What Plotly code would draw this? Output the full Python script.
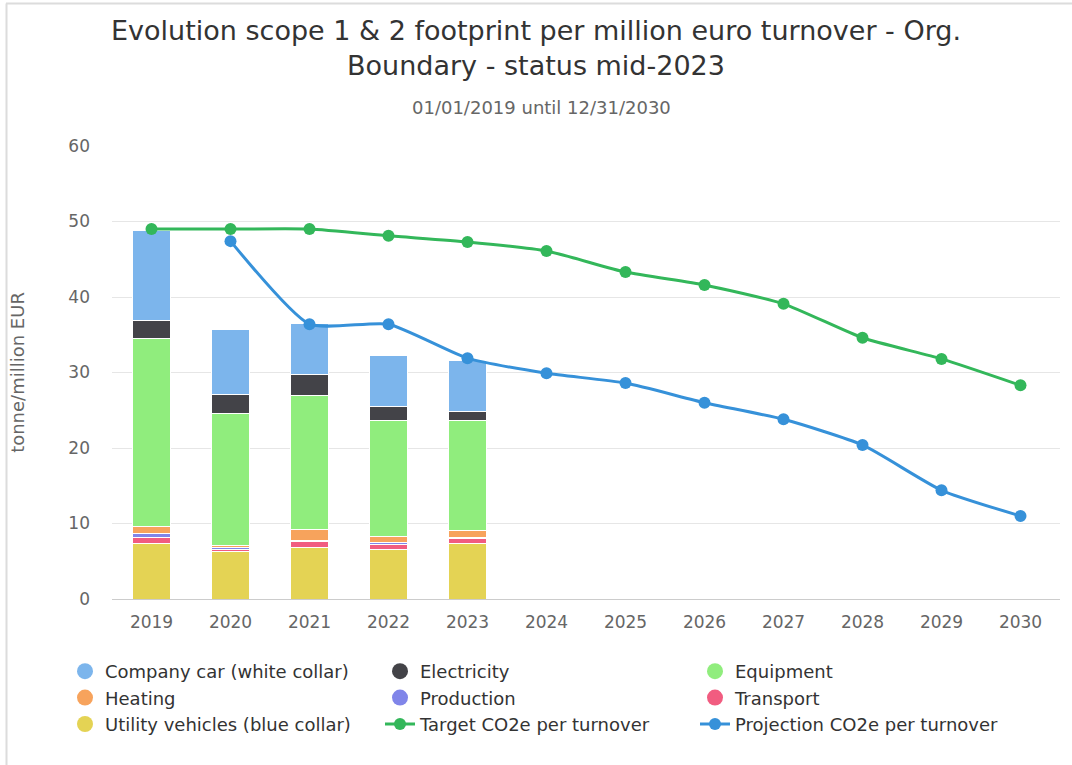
import plotly.graph_objects as go

years = ["2019", "2020", "2021", "2022", "2023", "2024", "2025", "2026", "2027", "2028", "2029", "2030"]
bar_years = ["2019", "2020", "2021", "2022", "2023"]

company_car = [11.9, 8.6, 6.8, 6.8, 6.75]
electricity = [2.4, 2.5, 2.85, 1.8, 1.2]
equipment = [24.9, 17.45, 17.7, 15.45, 14.6]
heating = [0.95, 0.35, 1.4, 0.75, 0.9]
production = [0.5, 0.2, 0.2, 0.25, 0.2]
transport = [0.8, 0.35, 0.8, 0.65, 0.65]
utility = [7.35, 6.25, 6.8, 6.6, 7.35]

target = [49.0, 49.0, 49.0, 48.1, 47.3, 46.1, 43.3, 41.6, 39.1, 34.6, 31.8, 28.3]
projection = [None, 47.4, 36.4, 36.4, 31.9, 29.9, 28.6, 26.0, 23.8, 20.4, 14.4, 11.0]

FONT = "DejaVu Sans"
W, H = 1072, 765
L, R, T, B = 112, 12, 146, 166
PW, PH = W - L - R, H - T - B

bar_series = [
    ("Utility vehicles (blue collar)", utility, "#e4d354", 7),
    ("Transport", transport, "#f15c80", 6),
    ("Production", production, "#8085e9", 5),
    ("Heating", heating, "#f7a35c", 4),
    ("Equipment", equipment, "#90ed7d", 3),
    ("Electricity", electricity, "#434348", 2),
    ("Company car (white collar)", company_car, "#7cb5ec", 1),
]

fig = go.Figure()
for name, vals, color, rank in bar_series:
    fig.add_trace(go.Bar(
        x=bar_years, y=vals, name=name, marker_color=color,
        marker_line_color="white", marker_line_width=1,
        showlegend=False, width=0.47,
    ))
    # legend entry with circular symbol
    fig.add_trace(go.Scatter(
        x=[None], y=[None], mode="markers", name=name,
        marker=dict(color=color, size=16, symbol="circle"),
        legendrank=rank, showlegend=True,
    ))

fig.add_trace(go.Scatter(
    x=years, y=target, name="Target CO2e per turnover", mode="lines+markers",
    line=dict(color="#33b75a", width=3, shape="spline", smoothing=0.55),
    marker=dict(color="#33b75a", size=12), legendrank=8,
))
fig.add_trace(go.Scatter(
    x=years, y=projection, name="Projection CO2e per turnover", mode="lines+markers",
    line=dict(color="#3691d9", width=3, shape="spline", smoothing=0.55),
    marker=dict(color="#3691d9", size=12), legendrank=9,
))

fig.update_layout(
    width=W, height=H,
    barmode="stack",
    plot_bgcolor="white", paper_bgcolor="white",
    font=dict(family=FONT, color="#666666", size=17),
    margin=dict(l=L, r=R, t=T, b=B, autoexpand=False),
    title=dict(
        text="Evolution scope 1 & 2 footprint per million euro turnover - Org.<br>Boundary - status mid-2023",
        x=0.5, xanchor="center", y=1 - 40 / H, yanchor="top",
        font=dict(family=FONT, size=27, color="#333333"),
    ),
    legend=dict(
        orientation="h", x=(65 - L) / PW, xanchor="left", y=-(653 - (H - B)) / PH, yanchor="top",
        entrywidth=270, entrywidthmode="pixels",
        font=dict(family=FONT, size=18, color="#333333"),
        traceorder="normal", itemsizing="trace",
    ),
    showlegend=True,
    annotations=[dict(
        text="01/01/2019 until 12/31/2030", xref="paper", yref="paper",
        x=(541 - L) / PW, y=1.0 + (T - 107) / PH, xanchor="center", yanchor="middle",
        showarrow=False, font=dict(family=FONT, size=18, color="#666666"),
    )],
    shapes=[
        dict(type="line", xref="paper", yref="paper",
             x0=(6 - L) / PW, x1=(W - L) / PW,
             y0=1 + (T - 3.5) / PH, y1=1 + (T - 3.5) / PH,
             line=dict(color="#dcdcdc", width=2)),
        dict(type="line", xref="paper", yref="paper",
             x0=(6.5 - L) / PW, x1=(6.5 - L) / PW,
             y0=1 + (T - 3.5) / PH, y1=-B / PH,
             line=dict(color="#dcdcdc", width=2)),
    ],
)
fig.update_xaxes(
    type="category", categoryorder="array", categoryarray=years,
    range=[-0.5, len(years) - 0.5],
    showgrid=False, showline=True, linecolor="#cccccc", linewidth=1,
    ticks="", tickfont=dict(size=17, color="#666666"), ticklabelstandoff=8,
)
fig.update_yaxes(
    range=[0, 60], dtick=10, showgrid=True, gridcolor="#e6e6e6", gridwidth=1,
    zeroline=False, showline=False, ticks="",
    tickfont=dict(size=17, color="#666666"), ticklabelstandoff=21,
    title=dict(text="tonne/million EUR", font=dict(size=18, color="#666666"), standoff=39),
)

fig.write_html("out.html", config={"displayModeBar": False},
               post_script="document.body.style.margin='0';")
